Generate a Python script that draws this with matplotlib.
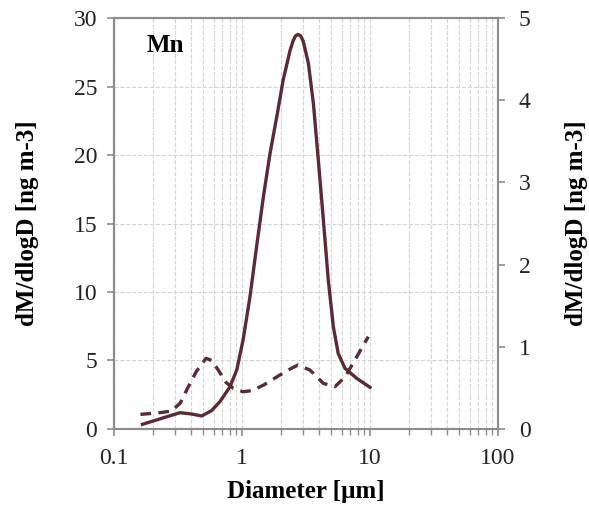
import matplotlib.pyplot as plt
from matplotlib.ticker import LogLocator, NullFormatter

# Solid curve (left axis)
solid_d = [0.167, 0.24, 0.328, 0.40, 0.484, 0.58, 0.673, 0.805, 0.91, 1.02, 1.155, 1.30,
           1.47, 1.655, 1.87, 2.10, 2.37, 2.50, 2.62, 2.74, 2.87, 3.01, 3.30, 3.61, 3.95,
           4.32, 4.72, 5.17, 5.65, 6.38, 7.87, 10.0]
solid_v = [0.34, 0.8, 1.19, 1.1, 0.95, 1.35, 2.0, 3.07, 4.3, 6.5, 9.66, 13.3,
           16.96, 20.1, 22.8, 25.5, 27.6, 28.3, 28.7, 28.8, 28.7, 28.3, 26.7, 23.8, 19.6,
           15.3, 10.9, 7.47, 5.5, 4.43, 3.7, 3.04]

# Dashed curve (right axis)
dash_d = [0.161, 0.22, 0.282, 0.33, 0.37, 0.44, 0.524, 0.58, 0.653, 0.75, 0.855, 1.02,
          1.2, 1.47, 1.98, 2.4, 2.74, 3.4, 4.32, 5.33, 6.38, 7.87, 9.7]
dash_v = [0.178, 0.195, 0.218, 0.317, 0.475, 0.70, 0.86, 0.833, 0.717, 0.567, 0.495, 0.453,
          0.467, 0.533, 0.657, 0.733, 0.778, 0.717, 0.555, 0.515, 0.633, 0.877, 1.123]

color = '#5b2a35'
grey = '#8c8c8c'
plt.rcParams['font.family'] = ['Liberation Serif', 'DejaVu Serif']

fig = plt.figure(figsize=(5.89, 5.09), dpi=100)
ax = fig.add_axes([0.1935, 0.1572, 0.652, 0.8074])
ax2 = ax.twinx()

ax.plot(solid_d, solid_v, color=color, lw=2.4, solid_joinstyle='round')
ax2.plot(dash_d, dash_v, color=color, lw=2.4, ls=(0, (3.2, 2.2)))

ax.set_xscale('log')
ax.set_xlim(0.1, 100)
ax.set_ylim(0, 30)
ax2.set_ylim(0, 5)
ax.set_xticks([0.1, 1, 10, 100])
ax.set_xticklabels(['0.1', '1', '10', '100'])
ax.xaxis.set_minor_locator(LogLocator(base=10, subs=range(2, 10)))
ax.xaxis.set_minor_formatter(NullFormatter())
ax.set_yticks(range(0, 31, 5))
ax2.set_yticks(range(0, 6))

ax.grid(True, which='both', axis='x', color='#d4d4d4', ls='--', lw=0.8)
ax.grid(True, which='major', axis='y', color='#d4d4d4', ls='--', lw=0.8)
ax.set_axisbelow(True)

for a in (ax, ax2):
    for s in a.spines.values():
        s.set_color(grey)
        s.set_linewidth(1.5)
    a.tick_params(which='major', direction='out', length=5, width=1.2, color=grey,
                  labelsize=17, labelcolor='#222222')
    a.tick_params(which='minor', direction='out', length=4, width=1.0, color=grey)
ax.tick_params(axis='x', pad=9)
ax.tick_params(axis='y', pad=7)
ax2.tick_params(axis='y', pad=10)

ax.set_xlabel('Diameter [µm]', fontsize=18, fontweight='bold')
ax.set_ylabel('dM/dlogD [ng m-3]', fontsize=18, fontweight='bold')
ax2.set_ylabel('dM/dlogD [ng m-3]', fontsize=18, fontweight='bold')
ax.xaxis.set_label_coords(0.5, -0.125)
ax.yaxis.set_label_coords(-0.195, 0.5)
ax2.yaxis.set_label_coords(1.175, 0.5)
ax.text(0.086, 0.932, 'Mn', transform=ax.transAxes, fontsize=18, fontweight='bold',
        va='center', ha='left')

fig.savefig('out.png', dpi=100)
